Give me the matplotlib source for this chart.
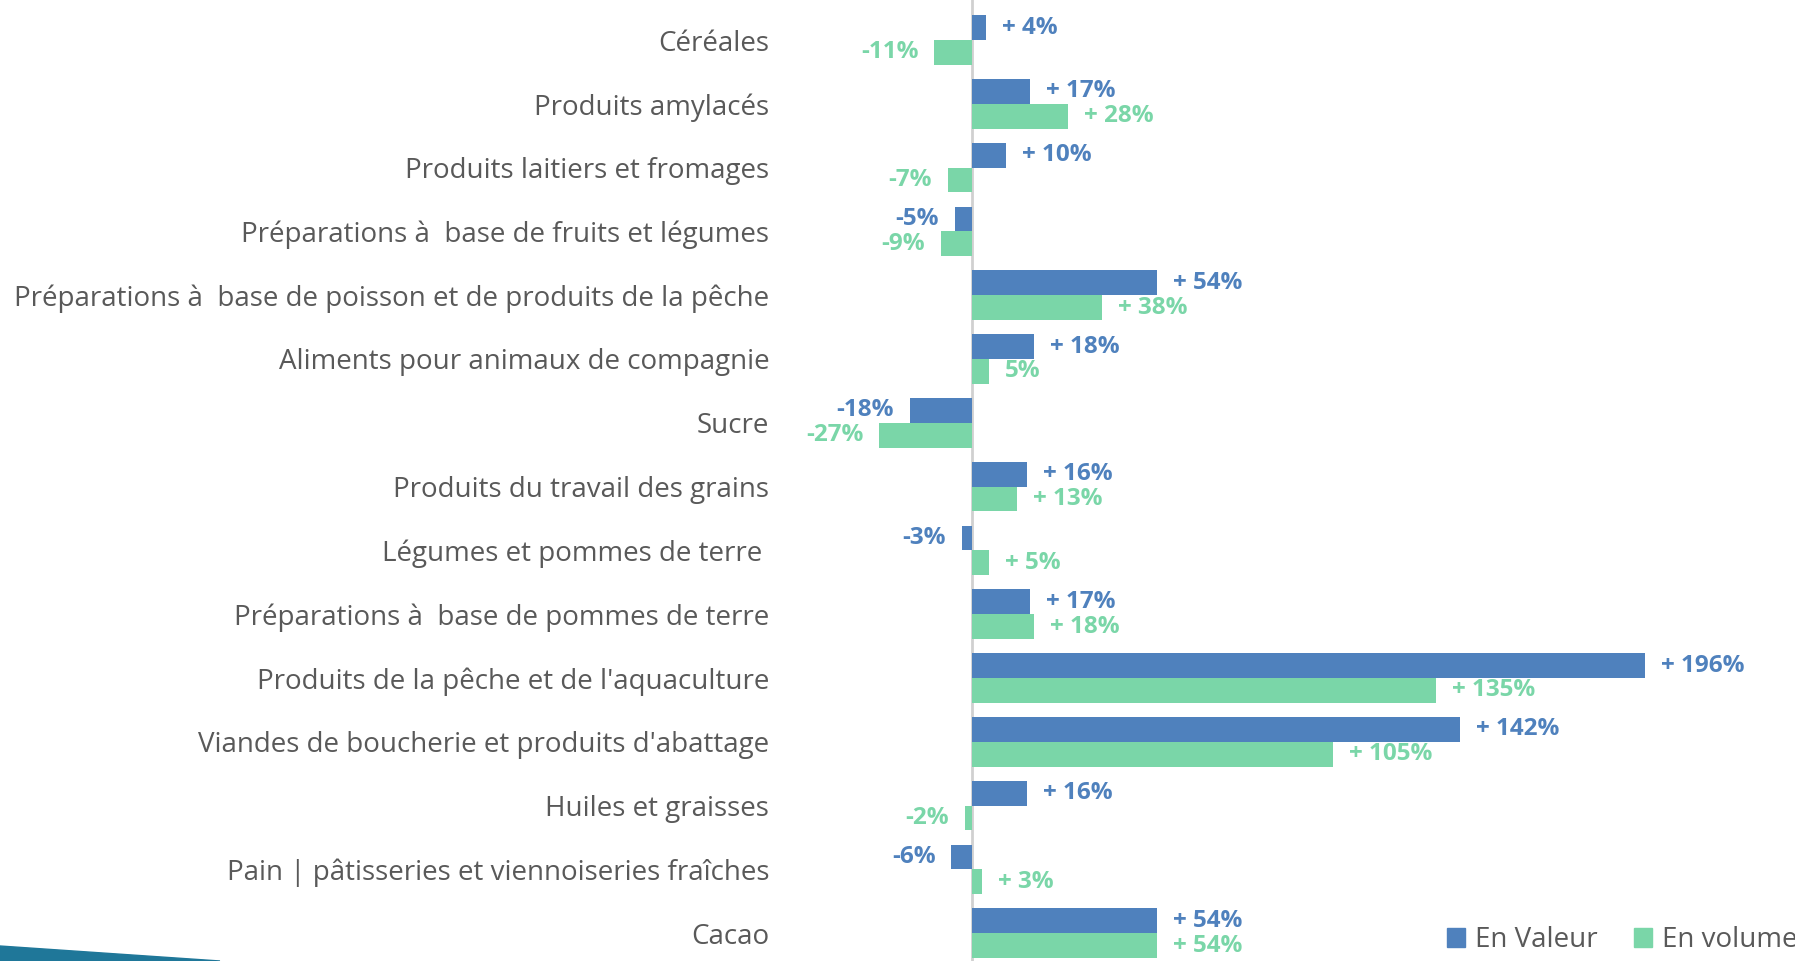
import numpy as np
import matplotlib.pyplot as plt
from matplotlib.patches import Polygon, Patch

categories = ['Céréales', 'Produits amylacés', 'Produits laitiers et fromages',
              'Préparations à  base de fruits et légumes',
              'Préparations à  base de poisson et de produits de la pêche',
              'Aliments pour animaux de compagnie', 'Sucre',
              'Produits du travail des grains', 'Légumes et pommes de terre ',
              'Préparations à  base de pommes de terre',
              "Produits de la pêche et de l'aquaculture",
              "Viandes de boucherie et produits d'abattage",
              'Huiles et graisses',
              'Pain | pâtisseries et viennoiseries fraîches', 'Cacao']
valeur = [4, 17, 10, -5, 54, 18, -18, 16, -3, 17, 196, 142, 16, -6, 54]
volume = [-11, 28, -7, -9, 38, 5, -27, 13, 5, 18, 135, 105, -2, 3, 54]
valeur_labels = ['+ 4%', '+ 17%', '+ 10%', '-5%', '+ 54%', '+ 18%', '-18%', '+ 16%',
                 '-3%', '+ 17%', '+ 196%', '+ 142%', '+ 16%', '-6%', '+ 54%']
volume_labels = ['-11%', '+ 28%', '-7%', '-9%', '+ 38%', '5%', '-27%', '+ 13%',
                 '+ 5%', '+ 18%', '+ 135%', '+ 105%', '-2%', '+ 3%', '+ 54%']

BLUE = '#4F81BD'
GREEN = '#7AD6A8'
GREY = '#595959'

plt.rcParams['font.family'] = ['Open Sans', 'DejaVu Sans']

W, H = 1795, 961
fig = plt.figure(figsize=(W / 100, H / 100), dpi=100)

# axes placed in pixel terms: zero at x=972, 3.434 px per percent
left_px, right_px = 790, 1790
zero_px, ppu = 972, 3.434
ax = fig.add_axes([left_px / W, 0, (right_px - left_px) / W, 1])
ax.set_xlim((left_px - zero_px) / ppu, (right_px - zero_px) / ppu)
row0, step = 40, 63.8
ax.set_ylim((H - row0) / step, -row0 / step)

y = np.arange(len(categories))
h = 0.39
ax.barh(y - h / 2, valeur, height=h, color=BLUE, zorder=2)
ax.barh(y + h / 2, volume, height=h, color=GREEN, zorder=2)
ax.axvline(0, color='#D0D0D0', lw=2, zorder=1)

for vals, labs, off, col in [(valeur, valeur_labels, -h / 2, BLUE),
                             (volume, volume_labels, h / 2, GREEN)]:
    for i, (v, lab) in enumerate(zip(vals, labs)):
        ax.annotate(lab, (v, i + off), xytext=(11.5 if v >= 0 else -11.5, 0),
                    textcoords='offset points', va='center',
                    ha='left' if v >= 0 else 'right',
                    fontsize=17.5, fontweight='bold', color=col)

ax.set_yticks(y)
ax.set_yticklabels(categories, fontsize=20, color=GREY)
ax.tick_params(axis='y', length=0, pad=15)
ax.set_xticks([])
for s in ax.spines.values():
    s.set_visible(False)
ax.patch.set_alpha(0)

handles = [Patch(color=BLUE, label='En Valeur'), Patch(color=GREEN, label='En volume')]
fig.legend(handles=handles, loc='center right', bbox_to_anchor=(1797 / W, 1 - 940 / H),
           ncol=2, frameon=False, fontsize=20, labelcolor=GREY,
           handlelength=0.65, handleheight=0.65, handletextpad=0.35,
           columnspacing=1.3, borderaxespad=0, borderpad=0)

# decorative stripe bottom-left
stripe = Polygon([[0, 1 - 946 / H], [220 / W, 0], [0, 0]], closed=True,
                 transform=fig.transFigure, color='#1F7799', zorder=0)
fig.patches.append(stripe)

fig.savefig('out.png', dpi=100)
